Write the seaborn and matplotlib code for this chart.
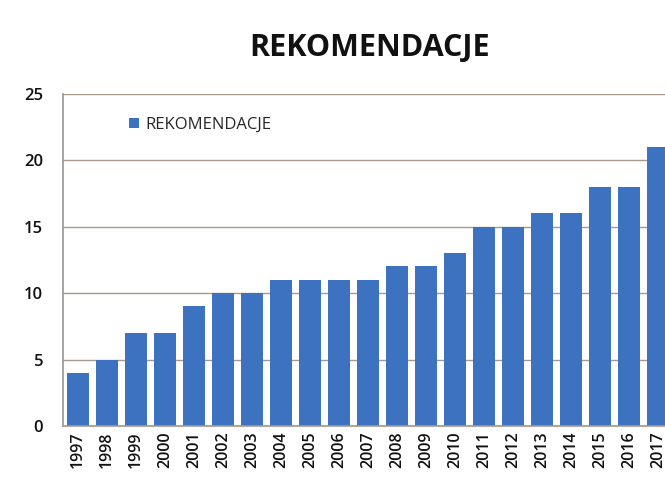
import numpy as np
import pandas as pd
import matplotlib
matplotlib.use("Agg")
import matplotlib.pyplot as plt
import seaborn as sns

# Number of recommendations per year.
years = [str(y) for y in range(1997, 2018)]
counts = [4, 5, 7, 7, 9, 10, 10, 11, 11, 11, 11, 12, 12, 13, 15, 15, 16, 16, 18, 18, 21]
series_name = "REKOMENDACJE"

df = pd.DataFrame({"year": years, "count": counts})

sns.set_theme(style="white")
plt.rcParams["font.family"] = ["Open Sans", "DejaVu Sans"]

fig = plt.figure(figsize=(6.65, 4.8), dpi=100)
# The chart is cut on the right edge in the reference, so the axes runs past the figure.
ax = fig.add_axes([0.094, 0.1125, 0.919, 0.6925])

sns.barplot(data=df, x="year", y="count", color="#3c72c0", saturation=1,
            width=0.77, linewidth=0, ax=ax, label=series_name)

ax.set_xlim(-0.53, len(years) - 0.47)
ax.set_ylim(0, 25)
ax.set_yticks([0, 5, 10, 15, 20, 25])
ax.yaxis.grid(True, color="#a8998c", linewidth=1.0)
ax.set_axisbelow(True)

ax.set_xlabel("")
ax.set_ylabel("")
ax.tick_params(axis="x", labelrotation=90, labelsize=11.5, length=0, pad=4, labelcolor="#111111")
ax.tick_params(axis="y", labelsize=12, length=5, color="#a8998c", pad=9, labelcolor="#111111")
for lbl in ax.get_xticklabels() + ax.get_yticklabels():
    lbl.set_fontweight("semibold")
ax.set_xticks(np.arange(-0.5, len(years)), minor=True)
ax.tick_params(axis="x", which="minor", length=5, color="#c8a880", width=1)

for side in ["top", "right"]:
    ax.spines[side].set_visible(False)
ax.spines["left"].set_color("#999999")
ax.spines["bottom"].set_color("#a8998c")

ax.legend(loc="upper left", bbox_to_anchor=(0.085, 0.975), frameon=False,
          fontsize=12, handlelength=0.6, handleheight=0.6, handletextpad=0.35)

fig.text(0.555, 0.9, series_name, ha="center", va="center",
         fontsize=22, fontweight="bold", color="#111111")

fig.savefig("out.png", dpi=100)
